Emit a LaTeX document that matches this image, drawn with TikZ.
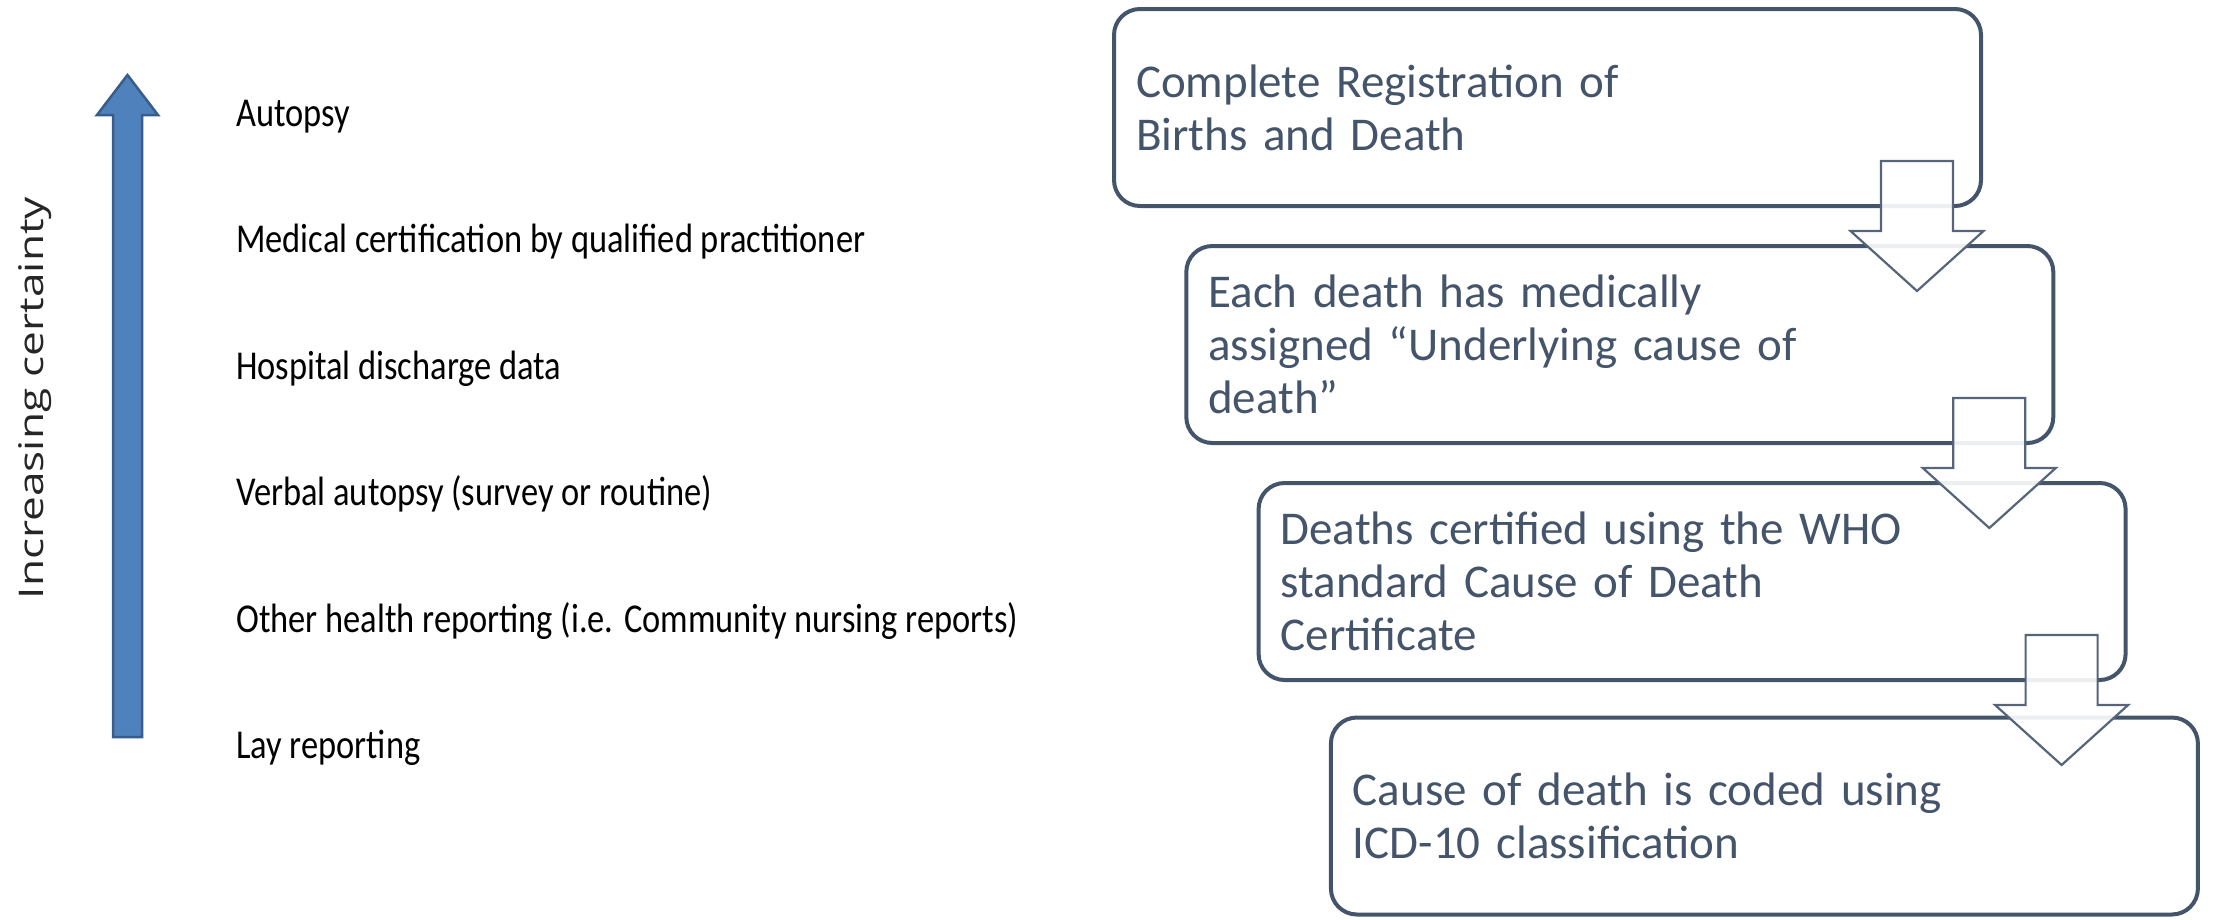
\documentclass[tikz,border=0pt]{standalone}
\usepackage{fontspec}
\setmainfont{Carlito}
\newfontfamily\sidefont{Open Sans}
\usetikzlibrary{calc}

\definecolor{slate}{HTML}{44546A}
\definecolor{arrowline}{HTML}{56657A}
\definecolor{barfill}{HTML}{4F81BD}
\definecolor{barline}{HTML}{385D8A}
\definecolor{sidegray}{HTML}{262626}

% narrow, tall lettering for the list of sources
\newcommand{\narrowtext}[1]{\scalebox{0.84}[1]{#1}}

\tikzset{
  level/.style={anchor=base west, inner sep=0pt, text=black,
    font=\fontsize{41}{48}\selectfont},
  stagebox/.style={draw=slate, line width=4pt, rounded corners=26pt,
    minimum width=867pt, minimum height=197pt, text width=823pt,
    inner xsep=22pt, inner ysep=0pt, align=left, text=slate,
    font=\fontsize{47}{53}\selectfont},
  blockarrow/.style={draw=arrowline, line width=2.2pt, fill=white,
    fill opacity=0.9, line join=miter},
}

\begin{document}
\begin{tikzpicture}[x=1pt, y=-1pt]
\useasboundingbox (0,0) rectangle (2213,919);

% vertical scale arrow
\draw[fill=barfill, draw=barline, line width=2.5pt, line join=miter]
  (113,737) -- (113,115) -- (97,115) -- (127.5,75) -- (158,115)
  -- (142,115) -- (142,737) -- cycle;
\node[rotate=90, anchor=base, inner sep=0pt, text=sidegray,
      font=\sidefont\fontsize{34}{40}\selectfont] (axis) at (43,398)
  {\scalebox{1.3}[1]{Increasing certainty}};

% levels of certainty, lowest at the bottom
\node[level] (l1) at (236,126) {\narrowtext{Autopsy}};
\node[level] (l2) at (236,252.5) {\narrowtext{Medical certification by qualified practitioner}};
\node[level] (l3) at (236,379) {\narrowtext{Hospital discharge data}};
\node[level] (l4) at (236,505.5) {\narrowtext{Verbal autopsy (survey or routine)}};
\node[level] (l5) at (236,632) {\narrowtext{Other health reporting (i.e. Community nursing reports)}};
\node[level] (l6) at (236,758.5) {\narrowtext{Lay reporting}};

% stages of a vital registration system
\node[stagebox] (b1) at (1547.5,107.5) {Complete Registration of\\Births and Death};
\node[stagebox] (b2) at (1619.8,344.5) {Each death has medically\\assigned “Underlying cause of\\death”};
\node[stagebox] (b3) at (1692.1,581.5) {Deaths certified using the WHO\\standard Cause of Death\\Certificate};
\node[stagebox] (b4) at (1764.4,816) {Cause of death is coded using\\ICD-10 classification};

% block arrows between consecutive stages
\foreach \a/\b in {b1/b2, b2/b3, b3/b4}{
  \coordinate (top) at ($(\a.south east)+(-66,-47)$);
  \coordinate (tip) at ($(\a.south east)+(-66,83)$);
  \draw[blockarrow] ($(top)+(-36,0)$) -- ($(top)+(36,0)$)
    -- ($(top)+(36,70)$) -- ($(top)+(66.5,70)$) -- (tip)
    -- ($(top)+(-66.5,70)$) -- ($(top)+(-36,70)$) -- cycle;
}
\end{tikzpicture}
\end{document}
